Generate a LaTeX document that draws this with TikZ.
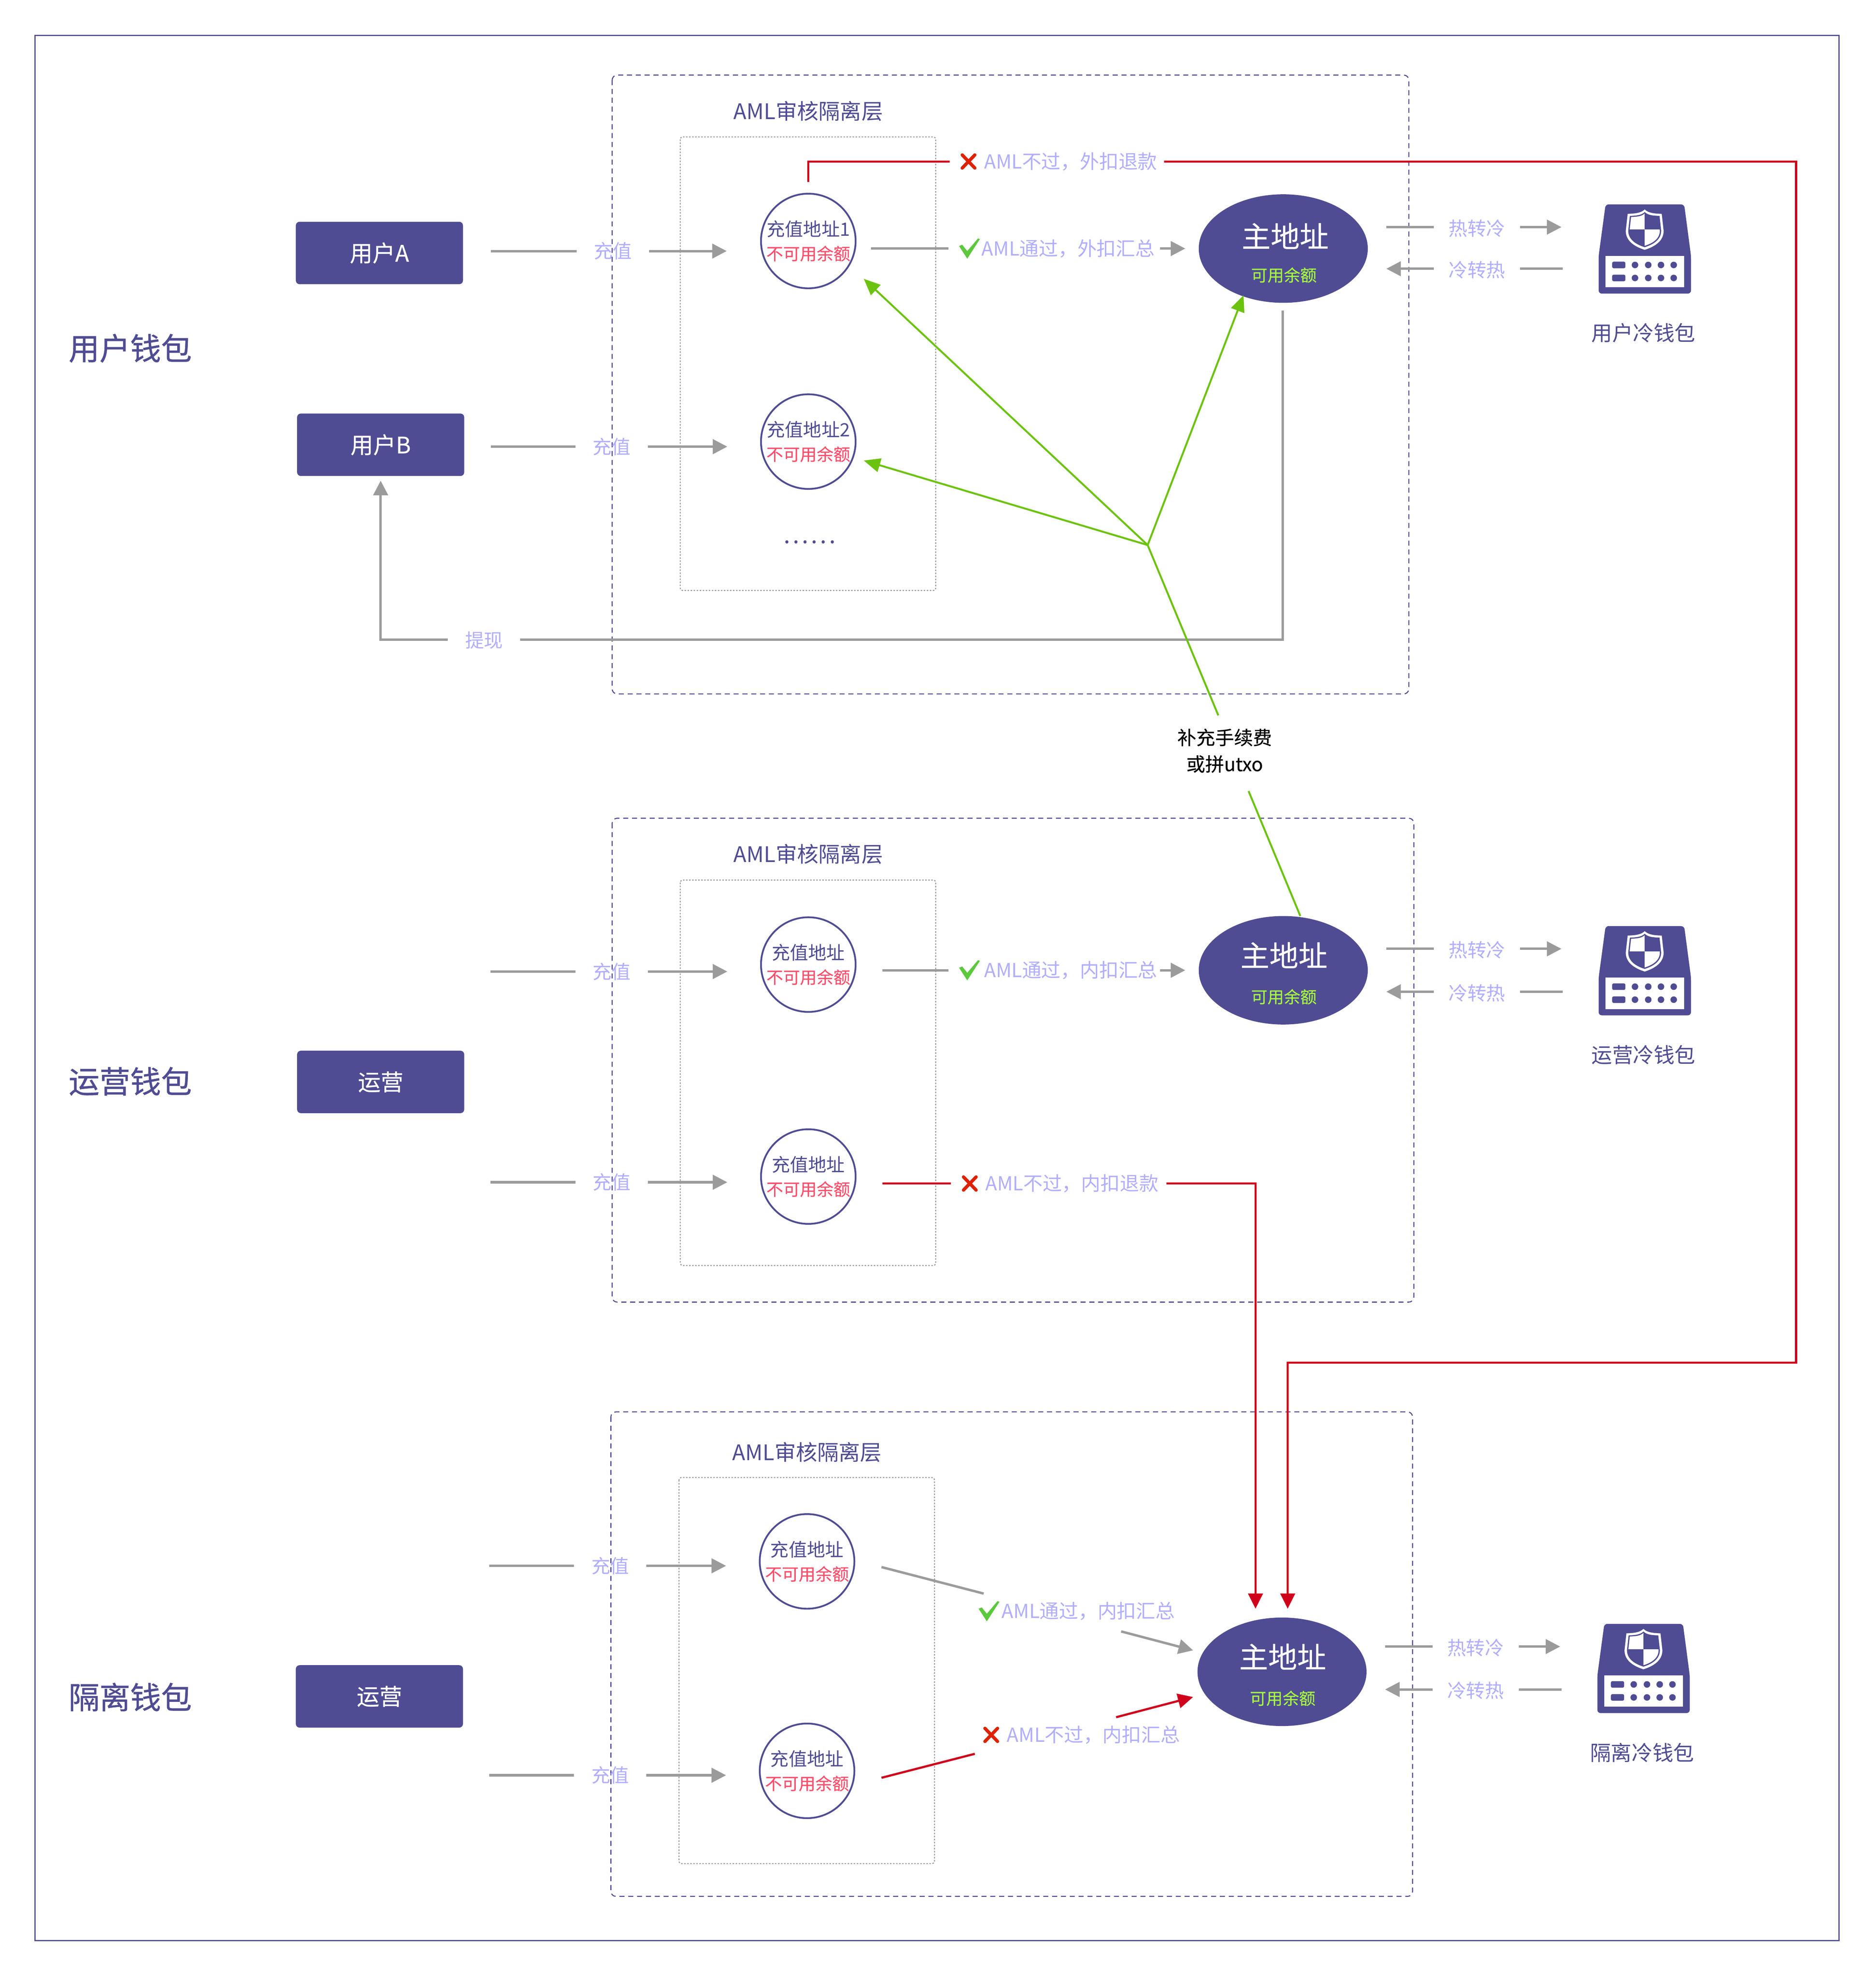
\documentclass[tikz,border=0pt]{standalone}
\usepackage{fontspec}
\usetikzlibrary{shapes.geometric,arrows.meta,calc}
\setmainfont{Noto Sans CJK SC}
\newfontfamily\medfont[FakeBold=0.4]{Noto Sans CJK SC}
\newfontfamily\strongfont[FakeBold=0.8]{Noto Sans CJK SC}
\newfontfamily\semifont[FakeBold=0.2]{Noto Sans CJK SC}
\definecolor{prim}{HTML}{4F4C93}
\definecolor{liteviolet}{HTML}{B1AEFF}
\definecolor{redline}{HTML}{D0021B}
\definecolor{xred}{HTML}{DD2200}
\definecolor{grayline}{HTML}{9B9B9B}
\definecolor{greenline}{HTML}{6CC30F}
\definecolor{okgreen}{HTML}{5CC83C}
\definecolor{warnred}{HTML}{FF4D6A}
\definecolor{limetxt}{HTML}{A6FF3C}
\newcommand\fs[1]{\fontsize{#1}{#1}\selectfont}
\tikzset{
  frame/.style={draw=prim,line width=.8pt},
  layerbox/.style={draw=prim,line width=.8pt,dash pattern=on 4pt off 3pt,rounded corners=4pt},
  innerbox/.style={draw=grayline,line width=.8pt,dash pattern=on 1.2pt off 1.2pt,rounded corners=2pt},
  layertitle/.style={text=prim,font=\fs{17}},
  walletname/.style={text=prim,font=\strongfont\fs{24.4}},
  userbox/.style={fill=prim,text=white,font=\medfont\fs{18},minimum width=132.5pt,minimum height=49.5pt,rounded corners=3pt,inner sep=0pt},
  addr/.style={circle,draw=prim,line width=1.4pt,fill=white,minimum size=75pt,inner sep=0pt,align=center,text=prim,font=\fontsize{14.5}{19}\selectfont},
  mainaddr/.style={ellipse,fill=prim,minimum width=134pt,minimum height=86pt,inner sep=0pt},
  maintext/.style={text=white,font=\semifont\fs{23}},
  availtext/.style={text=limetxt,font=\semifont\fs{13}},
  lab/.style={text=liteviolet,font=\fs{15},inner ysep=0pt,inner xsep=13.5pt},
  lab3/.style={lab,inner xsep=11.5pt},
  amltext/.style={text=liteviolet,font=\fs{15.3},inner sep=0pt},
  coldname/.style={text=prim,font=\fs{16.5}},
  gline/.style={draw=grayline,line width=1.9pt},
  garr/.style={gline,-{Triangle[length=11.5pt,width=11.5pt]}},
  rline/.style={draw=redline,line width=1.7pt},
  rarr/.style={rline,-{Triangle[length=12pt,width=11.5pt]}},
  gnline/.style={draw=greenline,line width=1.5pt},
  gnarr/.style={gnline,-{Triangle[length=13pt,width=11pt]}},
}
\newcommand\redword[1]{{\semifont\fontsize{13.3}{19}\selectfont\color{warnred}#1}}
\newcommand\okmark[2]{\fill[okgreen] (#1-8,#2-2)--(#1-5.5,#2-3)--(#1-1.5,#2+2)--(#1+7,#2-8)--(#1+8.5,#2-7.5)--(#1-1.5,#2+8)--cycle;}
\newcommand\nomark[2]{\draw[xred,line width=2.6pt,line cap=round] (#1-5,#2-5.2)--(#1+5,#2+5.2) (#1+5,#2-5.2)--(#1-5,#2+5.2);}
\newcommand\shieldpath{(0,-16) .. controls (-3,-13) and (-8,-12.7) .. (-13.5,-12.5) -- (-15,1) .. controls (-15,9) and (-8,13.5) .. (0,16) .. controls (8,13.5) and (15,9) .. (15,1) -- (13.5,-12.5) .. controls (8,-12.7) and (3,-13) .. (0,-16) -- cycle}
\newcommand\coldicon[2]{%
 \begin{scope}[shift={(#1,#2)}]
  \fill[prim,rounded corners=2.5pt] (-30.5,-20) -- (-31,-20) -- (-36.5,20.8) -- (-36.5,50.7) -- (36.7,50.7) -- (36.7,20.8) -- (31.3,-20) -- cycle;
  \fill[white] (-31.2,20.8) rectangle (31.4,45.7);
  \foreach \ry in {28,38.3} {
    \fill[prim,rounded corners=1.2pt] (-25.8,\ry-2.6) rectangle (-15.3,\ry+2.6);
    \foreach \dx in {-7.7,2.8,12.9,23} \fill[prim] (\dx,\ry) circle[radius=2.6];
  }
  \fill[white] \shieldpath;
  \fill[prim,scale=.87] \shieldpath;
  \begin{scope}
   \clip[scale=.8] \shieldpath;
   \fill[white] (-16,-17) rectangle (0,0);
   \fill[white] (0,0) rectangle (16,17);
  \end{scope}
 \end{scope}}
\newcommand\hotcold[5]{% suffix, main node, dx, y1, y2
 \node[lab3] (hc#1) at (1171+#3,#4+1) {热转冷};
 \node[lab3] (ch#1) at (1171+#3,#5+1) {冷转热};
 \coordinate (hcend#1) at (1238+#3,#4);
 \coordinate (chend#1) at (1239+#3,#5);
 \draw[gline,shorten <=14.5pt] (#2.east |- hcend#1) -- (hc#1.west |- hcend#1);
 \draw[garr] (hc#1.east |- hcend#1) -- (hcend#1);
 \draw[garr,shorten >=14.5pt] (ch#1.west |- chend#1) -- (#2.east |- chend#1);
 \draw[gline] (ch#1.east |- chend#1) -- (chend#1);
}
\begin{document}
\begin{tikzpicture}[x=1pt,y=-1pt]
\useasboundingbox (0.25,0) rectangle (1487.25,1567.7);
\fill[white] (0.25,0) rectangle (1487.25,1567.7);
\draw[frame] (28,28) rectangle (1458,1538);
% layers
\draw[layerbox] (485.5,59.5) rectangle (1117,550);
\draw[innerbox] (539.5,108.5) rectangle (742,468);
\node[layertitle] (t1) at (641,88) {AML审核隔离层};
\draw[layerbox] (485.5,648.5) rectangle (1121,1032);
\draw[innerbox] (539.5,697.5) rectangle (742,1003);
\node[layertitle] (t2) at (641,677) {AML审核隔离层};
\draw[layerbox] (484.5,1119) rectangle (1120,1503);
\draw[innerbox] (538.5,1171) rectangle (741,1477);
\node[layertitle] (t3) at (640,1151) {AML审核隔离层};
% wallet names
\node[walletname] (w1) at (103.5,276) {用户钱包};
\node[walletname] (w2) at (103.5,857) {运营钱包};
\node[walletname] (w3) at (103.5,1345) {隔离钱包};
% users
\node[userbox] (ua) at (301,200.5) {\raisebox{.8pt}{用户A}};
\node[userbox] (ub) at (302,352.5) {\raisebox{.8pt}{用户B}};
\node[userbox] (op1) at (302,857.5) {\raisebox{.8pt}{运营}};
\node[userbox] (op2) at (301,1344.5) {\raisebox{.8pt}{运营}};
% address circles
\node[addr] (a1) at (641,191) {充值地址1\\\redword{不可用余额}};
\node[addr] (a2) at (641,350) {充值地址2\\\redword{不可用余额}};
\node[addr] (a3) at (641,764.5) {充值地址\\\redword{不可用余额}};
\node[addr] (a4) at (641,932.5) {充值地址\\\redword{不可用余额}};
\node[addr] (a5) at (640,1237.5) {充值地址\\\redword{不可用余额}};
\node[addr] (a6) at (640,1403.5) {充值地址\\\redword{不可用余额}};
\node[text=prim,font=\medfont\fs{18},inner sep=0pt] (more) at (642,429.5) {.\hspace{2.2pt}.\hspace{2.2pt}.\hspace{2.2pt}.\hspace{2.2pt}.\hspace{2.2pt}.};
% main addresses
\node[mainaddr] (m1) at (1017.5,197) {};
\node[maintext] (m1t) at (1019,187) {主地址};
\node[availtext] (m1a) at (1018,218) {可用余额};
\node[mainaddr] (m2) at (1017.5,769) {};
\node[maintext] (m2t) at (1018,757) {主地址};
\node[availtext] (m2a) at (1018,790) {可用余额};
\node[mainaddr] (m3) at (1016.5,1325) {};
\node[maintext] (m3t) at (1017,1313) {主地址};
\node[availtext] (m3a) at (1017,1346) {可用余额};
% deposit connectors
\node[lab] (d1) at (486,199) {充值};
\draw[gline,shorten <=22pt] (ua.east |- d1.west) -- (d1.west);
\draw[garr,shorten >=26.5pt] (d1.east) -- (a1.west |- d1.east);
\node[lab] (d2) at (485,354) {充值};
\draw[gline,shorten <=21pt] (ub.east |- d2.west) -- (d2.west);
\draw[garr,shorten >=26pt] (d2.east) -- (a2.west |- d2.east);
\node[lab] (d3) at (485,770) {充值};
\coordinate (s3) at (389,770);
\draw[gline] (s3) -- (d3.west);
\draw[garr,shorten >=26pt] (d3.east) -- (a3.west |- d3.east);
\node[lab] (d4) at (485,937) {充值};
\coordinate (s4) at (389,937);
\draw[gline] (s4) -- (d4.west);
\draw[garr,shorten >=26pt] (d4.east) -- (a4.west |- d4.east);
\node[lab] (d5) at (484,1241) {充值};
\coordinate (s5) at (388,1241);
\draw[gline] (s5) -- (d5.west);
\draw[garr,shorten >=26pt] (d5.east) -- (a5.west |- d5.east);
\node[lab] (d6) at (484,1407) {充值};
\coordinate (s6) at (388,1407);
\draw[gline] (s6) -- (d6.west);
\draw[garr,shorten >=26pt] (d6.east) -- (a6.west |- d6.east);
% AML row 1
\node[amltext] (p1) at (847,197) {AML通过，外扣汇总};
\okmark{768.5}{197}
\coordinate (p1a) at (752,197);
\coordinate (p1b) at (920,197);
\draw[gline,shorten <=11.5pt] (a1.east |- p1a) -- (p1a);
\draw[garr,shorten >=10.5pt] (p1b) -- (m1.west |- p1b);
\node[amltext] (f1) at (849,128) {AML不过，外扣退款};
\nomark{768}{128}
\coordinate (f1a) at (753,128);
\coordinate (f1b) at (923,128);
\coordinate (f1c) at (1424,128);
\coordinate (f1d) at (1424,1080);
\coordinate (f1e) at (1021,1080);
\coordinate (f1f) at (1021,1275);
\draw[rline] ([yshift=8.5pt]a1.north) -- (a1.north |- f1a) -- (f1a);
\draw[rarr] (f1b) -- (f1c) -- (f1d) -- (f1e) -- (f1f);
% AML row 2
\node[amltext] (p2) at (849,769) {AML通过，内扣汇总};
\okmark{768.5}{769}
\coordinate (p2a) at (752,769);
\coordinate (p2b) at (920,769);
\draw[gline,shorten <=20.5pt] (a3.east |- p2a) -- (p2a);
\draw[garr,shorten >=10.5pt] (p2b) -- (m2.west |- p2b);
\node[amltext] (f2) at (850,938) {AML不过，内扣退款};
\nomark{769}{938}
\coordinate (f2a) at (754,938);
\coordinate (f2b) at (925,938);
\coordinate (f2c) at (995.5,938);
\coordinate (f2d) at (995.5,1275);
\draw[rline,shorten <=20.5pt] (a4.east |- f2a) -- (f2a);
\draw[rarr] (f2b) -- (f2c) -- (f2d);
% AML row 3
\node[amltext] (p3) at (863,1277) {AML通过，内扣汇总};
\okmark{784}{1277}
\coordinate (p3s) at (699,1242);
\coordinate (p3a) at (780,1263);
\coordinate (p3b) at (889,1293);
\coordinate (p3c) at (946,1308);
\draw[gline] (p3s) -- (p3a);
\draw[garr] (p3b) -- (p3c);
\node[amltext] (f3) at (867,1375) {AML不过，内扣汇总};
\nomark{786}{1375}
\coordinate (f3s) at (699,1409);
\coordinate (f3a) at (773,1390);
\coordinate (f3b) at (885,1361);
\coordinate (f3c) at (946,1345);
\draw[rline] (f3s) -- (f3a);
\draw[rarr] (f3b) -- (f3c);
% withdraw
\node[lab] (wd) at (384,507.5) {提现};
\coordinate (wc) at (1017,507);
\coordinate (wt) at (1017,246);
\draw[gline] (wt) -- (wc) -- (wd.east |- wc);
\coordinate (wk) at (302,507);
\coordinate (we) at (302,381);
\draw[garr] (wd.west |- wk) -- (wk) -- (we);
% green fee lines
\coordinate (junc) at (910,432);
\coordinate (g1) at (685,221);
\coordinate (g2) at (685,365);
\coordinate (g3) at (986,234);
\coordinate (g4) at (966,567);
\coordinate (g5) at (990,627);
\coordinate (g6) at (1031,726);
\draw[gnarr] (junc) -- (g1);
\draw[gnarr] (junc) -- (g2);
\draw[gnarr] (junc) -- (g3);
\draw[gnline] (junc) -- (g4);
\draw[gnline] (g5) -- (g6);
\node[align=center,text=black,font=\medfont\fontsize{15}{21}\selectfont] (fee) at (971,595) {补充手续费\\或拼utxo};
% hot/cold
\hotcold{1}{m1}{0}{180}{213}
\hotcold{2}{m2}{0}{752}{786}
\hotcold{3}{m3}{-1}{1305}{1339}
\coldicon{1304}{182}
\coldicon{1304}{754}
\coldicon{1303}{1307}
\node[coldname] (c1) at (1303,264) {用户冷钱包};
\node[coldname] (c2) at (1303,836) {运营冷钱包};
\node[coldname] (c3) at (1302,1389) {隔离冷钱包};
\end{tikzpicture}
\end{document}
